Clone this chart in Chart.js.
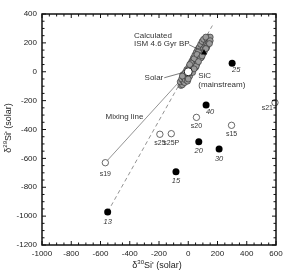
<!DOCTYPE html>
<html>
<head>
<meta charset="utf-8">
<script src="https://cdn.jsdelivr.net/npm/chart.js@4.4.0/dist/chart.umd.min.js"></script>
<style>
  html, body { margin: 0; padding: 0; background: #fff; }
  #wrap { width: 288px; height: 276px; position: relative; }
</style>
</head>
<body>
<div id="wrap"><canvas id="siChart"></canvas></div>
<script>
// tick labels
const xTicks = [-1000, -800, -600, -400, -200, 0, 200, 400, 600];
const yTicks = [-1200, -1000, -800, -600, -400, -200, 0, 200, 400];

// mainstream SiC grains [d30Si, d29Si]
const mainstreamSiC = [
  [-50,-95], [-40,-90], [-55,-70], [-35,-65], [-45,-50], [-25,-75], [-30,-40], [-20,-55],
  [-15,-30], [-35,-20], [-5,-45], [0,-20], [-20,-5], [10,-30], [5,5], [-10,15],
  [15,-5], [20,25], [5,35], [25,10], [30,45], [15,55], [35,25], [40,65],
  [25,75], [45,45], [50,85], [35,95], [55,60], [60,100], [45,115], [65,80],
  [70,120], [55,135], [75,100], [80,140], [65,155], [85,120], [90,160], [75,170],
  [95,140], [100,180], [85,190], [105,160], [110,200], [95,210], [115,175], [120,215],
  [105,225], [125,190], [130,225], [140,205], [135,240], [145,220], [150,240], [120,240],
  [110,140], [100,125], [60,55], [50,30], [30,-5], [-5,-65], [40,90], [70,140],
  [20,60], [80,110], [130,180], [90,100], [150,215], [10,50], [-40,-30], [60,120],
  [0,-50], [55,40], [85,95], [125,165], [145,195], [40,20], [70,70], [95,110], [120,160]
];
const solar = [[0, 0]];
const ismCalc = [[108, 132]];

// model compositions, open circles
const openNames = ['s19', 's25', 's25P', 's20', 's15', 's21'];
const openX = [-567, -194, -116, 56, 296, 593];
const openY = [-630, -433, -429, -316, -371, -214];

// model compositions, filled circles
const filledNames = ['13', '15', '20', '30', '40', '25'];
const filledX = [-551, -84, 72, 211, 122, 300];
const filledY = [-971, -692, -484, -535, -230, 59];

// lines
const mixingLine = [[-567, -630], [0, 0]];
const dashedLine = [[-551, -971], [165, 320]];

const FONT = "'Liberation Sans', Arial, Helvetica, sans-serif";
Chart.defaults.font.family = FONT;

const toPts = arr => arr.map(p => ({ x: p[0], y: p[1] }));
const zipPts = (xs, ys) => xs.map((v, i) => ({ x: v, y: ys[i] }));

const decorations = {
  id: 'decorations',
  afterDraw(chart) {
    const ctx = chart.ctx;
    const sx = chart.scales.x, sy = chart.scales.y;
    ctx.save();
    // axis titles
    ctx.fillStyle = '#222';
    ctx.textBaseline = 'alphabetic';
    const title = (sup) => {
      const parts = [
        { t: '\u03b4', f: '9px ' + FONT, dy: 0 },
        { t: sup, f: '6px ' + FONT, dy: -4 },
        { t: "Si' (solar)", f: '9px ' + FONT, dy: 0 }
      ];
      let w = 0;
      parts.forEach(p => { ctx.font = p.f; p.w = ctx.measureText(p.t).width; w += p.w; });
      let x = -w / 2;
      ctx.textAlign = 'left';
      parts.forEach(p => { ctx.font = p.f; ctx.fillText(p.t, x, p.dy); x += p.w; });
    };
    ctx.save();
    ctx.translate(157, 268);
    title('30');
    ctx.restore();
    ctx.save();
    ctx.translate(11, 128);
    ctx.rotate(-Math.PI / 2);
    title('29');
    ctx.restore();

    // point labels
    ctx.fillStyle = '#333';
    ctx.textBaseline = 'middle';
    const openMeta = chart.getDatasetMeta(1);
    ctx.font = '7px ' + FONT;
    openNames.forEach((n, i) => {
      const el = openMeta.data[i];
      if (n === 's21') { ctx.textAlign = 'right'; ctx.fillText(n, el.x - 2, el.y + 5); }
      else { ctx.textAlign = 'center'; ctx.fillText(n, el.x, el.y + (n === 's19' ? 11 : 9)); }
    });
    const filledMeta = chart.getDatasetMeta(0);
    ctx.font = 'italic 7.5px ' + FONT;
    ctx.textAlign = 'center';
    filledNames.forEach((n, i) => {
      const el = filledMeta.data[i];
      if (n === '40' || n === '25') ctx.fillText(n, el.x + 4, el.y + 7);
      else ctx.fillText(n, el.x, el.y + 9.5);
    });

    // annotations
    ctx.font = '8px ' + FONT;
    ctx.strokeStyle = '#444';
    ctx.lineWidth = 0.7;
    const ism = chart.getDatasetMeta(2).data[0];
    ctx.textAlign = 'left';
    ctx.fillText('Calculated', ism.x - 70, ism.y - 17);
    ctx.fillText('ISM 4.6 Gyr BP', ism.x - 70, ism.y - 8.5);
    ctx.beginPath(); ctx.moveTo(ism.x - 15, ism.y - 8); ctx.lineTo(ism.x - 3, ism.y - 2); ctx.stroke();

    const sol = chart.getDatasetMeta(3).data[0];
    ctx.textAlign = 'right';
    ctx.fillText('Solar', sol.x - 25, sol.y + 6);
    ctx.beginPath(); ctx.moveTo(sol.x - 24, sol.y + 6); ctx.lineTo(sol.x - 6, sol.y + 1); ctx.stroke();

    ctx.textAlign = 'left';
    ctx.fillText('SiC', sol.x + 10, sol.y + 4.5);
    ctx.fillText('(mainstream)', sol.x + 10, sol.y + 13);

    const mixStart = chart.getDatasetMeta(6).data[0];
    ctx.textAlign = 'right';
    ctx.fillText('Mixing line', mixStart.x + 38, mixStart.y - 46);

    // frame + inward ticks
    const L = sx.getPixelForValue(-1000), R = sx.getPixelForValue(600);
    const T = sy.getPixelForValue(400), B = sy.getPixelForValue(-1200);
    ctx.strokeStyle = '#111';
    ctx.lineWidth = 1.5;
    ctx.strokeRect(L, T, R - L, B - T);
    ctx.lineWidth = 1;
    ctx.beginPath();
    for (let v = -1000; v <= 600; v += 50) {
      const p = sx.getPixelForValue(v);
      const len = v % 200 === 0 ? 4 : 2.5;
      ctx.moveTo(p, B); ctx.lineTo(p, B - len);
      ctx.moveTo(p, T); ctx.lineTo(p, T + len);
    }
    for (let v = -1200; v <= 400; v += 50) {
      const p = sy.getPixelForValue(v);
      const len = v % 200 === 0 ? 4 : 2.5;
      ctx.moveTo(L, p); ctx.lineTo(L + len, p);
      ctx.moveTo(R, p); ctx.lineTo(R - len, p);
    }
    ctx.stroke();
    ctx.restore();
  }
};

new Chart(document.getElementById('siChart'), {
  type: 'scatter',
  data: {
    datasets: [
      { label: 'models', data: zipPts(filledX, filledY), backgroundColor: '#000', borderColor: '#000',
        pointRadius: 3.5, borderWidth: 0, order: 1, clip: false },
      { label: 'models open', data: zipPts(openX, openY), backgroundColor: '#fff', borderColor: '#444',
        pointRadius: 3.2, borderWidth: 0.8, order: 2, clip: false },
      { label: 'ISM', data: toPts(ismCalc), pointStyle: 'triangle', backgroundColor: '#000', borderColor: '#000',
        pointRadius: 3.5, borderWidth: 0, order: 3 },
      { label: 'Solar', data: toPts(solar), backgroundColor: '#fff', borderColor: '#222',
        pointRadius: 4, borderWidth: 1, order: 4 },
      { label: 'SiC', data: toPts(mainstreamSiC), backgroundColor: '#9a9a9a', borderColor: '#3a3a3a',
        pointRadius: 3, borderWidth: 0.7, order: 5 },
      { label: 'dashed', type: 'line', data: toPts(dashedLine), borderColor: '#777', borderWidth: 0.8,
        borderDash: [4, 3], pointRadius: 0, fill: false, order: 6 },
      { label: 'mixing', type: 'line', data: toPts(mixingLine), borderColor: '#777', borderWidth: 0.8,
        pointRadius: 0, fill: false, order: 7 }
    ]
  },
  options: {
    responsive: true,
    maintainAspectRatio: false,
    animation: false,
    layout: { padding: { left: 0, right: 12, top: 14, bottom: 0 } },
    plugins: { legend: { display: false }, tooltip: { enabled: false } },
    scales: {
      x: {
        type: 'linear', min: -1000, max: 600,
        afterBuildTicks: s => { s.ticks = xTicks.map(v => ({ value: v })); },
        afterFit: s => { s.height = 31; },
        grid: { display: false, drawTicks: false }, border: { display: false },
        ticks: { color: '#222', font: { size: 8 }, padding: 4, maxRotation: 0, autoSkip: false,
          callback: v => String(v) }
      },
      y: {
        type: 'linear', min: -1200, max: 400,
        afterBuildTicks: s => { s.ticks = yTicks.map(v => ({ value: v })); },
        afterFit: s => { s.width = 42; },
        grid: { display: false, drawTicks: false }, border: { display: false },
        ticks: { color: '#222', font: { size: 8 }, padding: 5, autoSkip: false,
          callback: v => String(v) }
      }
    }
  },
  plugins: [decorations]
});
</script>
</body>
</html>
